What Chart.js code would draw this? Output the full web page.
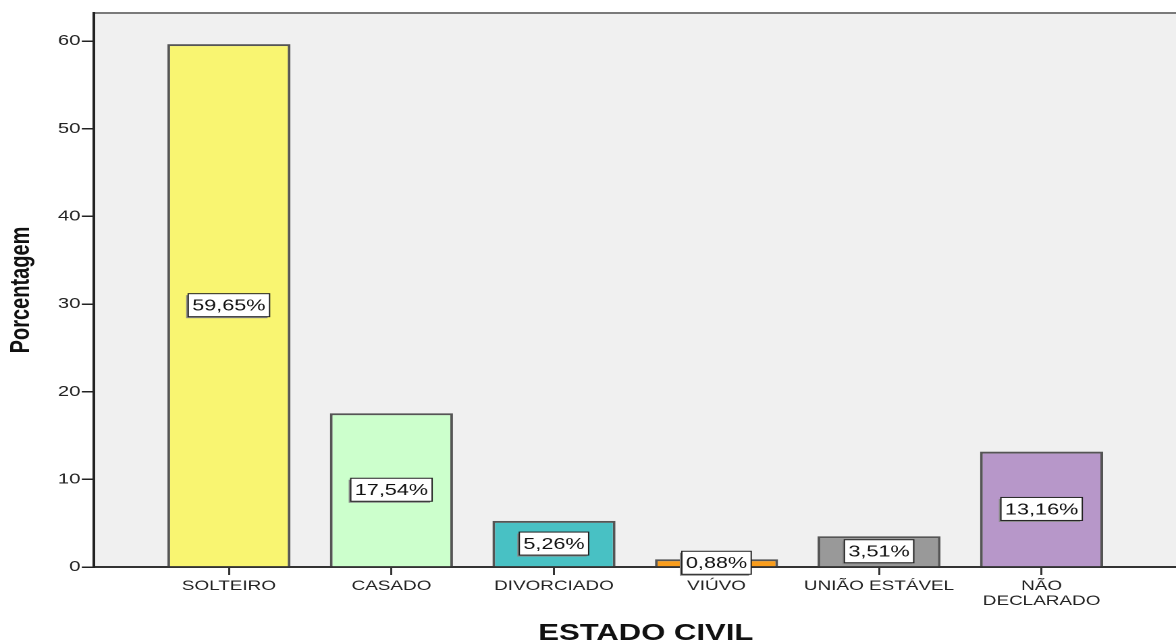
<!DOCTYPE html>
<html>
<head>
<meta charset="utf-8">
<script src="https://cdn.jsdelivr.net/npm/chart.js@4"></script>
<style>
  html, body { margin: 0; padding: 0; background: #fff; overflow: hidden; width: 1176px; height: 644px; }
  #wrap { width: 887px; height: 644px; transform: scaleX(1.3502); transform-origin: 0 0; }
</style>
</head>
<body>
<div id="wrap"><canvas id="barchart" width="887" height="644"></canvas></div>
<script>
const categories = ['SOLTEIRO', 'CASADO', 'DIVORCIADO', 'VIÚVO', 'UNIÃO ESTÁVEL', ['NÃO', 'DECLARADO']];
const values = [59.65, 17.54, 5.26, 0.88, 3.51, 13.16];
const yTicks = [0, 10, 20, 30, 40, 50, 60];
const barColors = ['#f9f571', '#ccffcc', '#48c1c4', '#f99d1c', '#999999', '#b797c9'];

const FONT = '"Liberation Sans", Arial, sans-serif';

// gray plot background + top border line
const plotBg = {
    id: 'plotBg',
    beforeDraw(chart) {
        const {ctx, chartArea: a} = chart;
        ctx.save();
        ctx.fillStyle = '#f0f0f0';
        ctx.fillRect(a.left, a.top, a.right - a.left, a.bottom - a.top);
        ctx.strokeStyle = '#7a7a7a';
        ctx.lineWidth = 2;
        ctx.beginPath();
        ctx.moveTo(a.left, a.top);
        ctx.lineTo(a.right, a.top);
        ctx.stroke();
        ctx.restore();
    }
};

// white boxes with the percentage in the middle of each bar
const valueBoxes = {
    id: 'valueBoxes',
    afterDatasetsDraw(chart) {
        const ctx = chart.ctx;
        const meta = chart.getDatasetMeta(0);
        ctx.save();
        ctx.font = '16px ' + FONT;
        ctx.textAlign = 'center';
        ctx.textBaseline = 'middle';
        meta.data.forEach((bar, i) => {
            const txt = values[i].toFixed(2).replace('.', ',') + '%';
            const cy = (bar.y + bar.base) / 2;
            const w = ctx.measureText(txt).width + 6;
            const h = 23;
            const x0 = bar.x - w / 2, y0 = cy - h / 2;
            ctx.fillStyle = '#8a8a8a';
            ctx.fillRect(x0 - 1.5, y0 + 1.5, w, h);
            ctx.fillStyle = '#ffffff';
            ctx.fillRect(x0, y0, w, h);
            ctx.strokeStyle = '#222';
            ctx.lineWidth = 1;
            ctx.strokeRect(x0, y0, w, h);
            ctx.fillStyle = '#111';
            ctx.fillText(txt, bar.x, cy + 1);
        });
        ctx.restore();
    }
};

const ctx = document.getElementById('barchart').getContext('2d');
const barchart = new Chart(ctx, {
    type: 'bar',
    data: {
        datasets: [{
            data: values.map((v, i) => ({x: i, y: v})),
            backgroundColor: barColors,
            borderColor: '#555555',
            borderWidth: 2,
            barPercentage: 0.757,
            categoryPercentage: 1
        }]
    },
    options: {
        responsive: false,
        animation: false,
        devicePixelRatio: 2,
        layout: { padding: { top: 13, right: 0, left: 0, bottom: 0 } },
        plugins: { legend: { display: false }, tooltip: { enabled: false } },
        scales: {
            x: {
                type: 'linear',
                min: -0.83,
                max: 5.96,
                offset: false,
                afterBuildTicks: (scale) => { scale.ticks = categories.map((c, i) => ({value: i})); },
                afterFit: (scale) => { scale.height = 77; },
                ticks: {
                    autoSkip: false,
                    maxRotation: 0,
                    padding: 4,
                    color: '#222',
                    font: { family: FONT, size: 14, lineHeight: 1.05 },
                    callback: (v) => categories[v]
                },
                grid: { offset: false, drawOnChartArea: false, drawTicks: true, tickLength: 8, color: '#333', lineWidth: 1.5 },
                border: { display: true, color: '#333', width: 2 },
                title: {
                    display: true,
                    text: 'ESTADO CIVIL',
                    color: '#111',
                    font: { family: FONT, size: 23, weight: 'bold', lineHeight: 1 },
                    padding: { top: 0, bottom: -1 }
                }
            },
            y: {
                min: 0,
                max: 63.2,
                afterBuildTicks: (scale) => { scale.ticks = yTicks.map(v => ({value: v})); },
                afterFit: (scale) => { scale.width = 69.6; },
                ticks: { padding: 1, color: '#222', font: { family: FONT, size: 15 } },
                grid: { drawOnChartArea: false, drawTicks: true, tickLength: 9, color: '#222', lineWidth: 1.5 },
                border: { display: true, color: '#222', width: 2 },
                title: {
                    display: true,
                    text: 'Porcentagem',
                    color: '#111',
                    font: { family: FONT, size: 20, weight: 'bold', lineHeight: 1 },
                    padding: { top: 6, bottom: 0 }
                }
            }
        }
    },
    plugins: [plotBg, valueBoxes]
});
</script>
</body>
</html>
